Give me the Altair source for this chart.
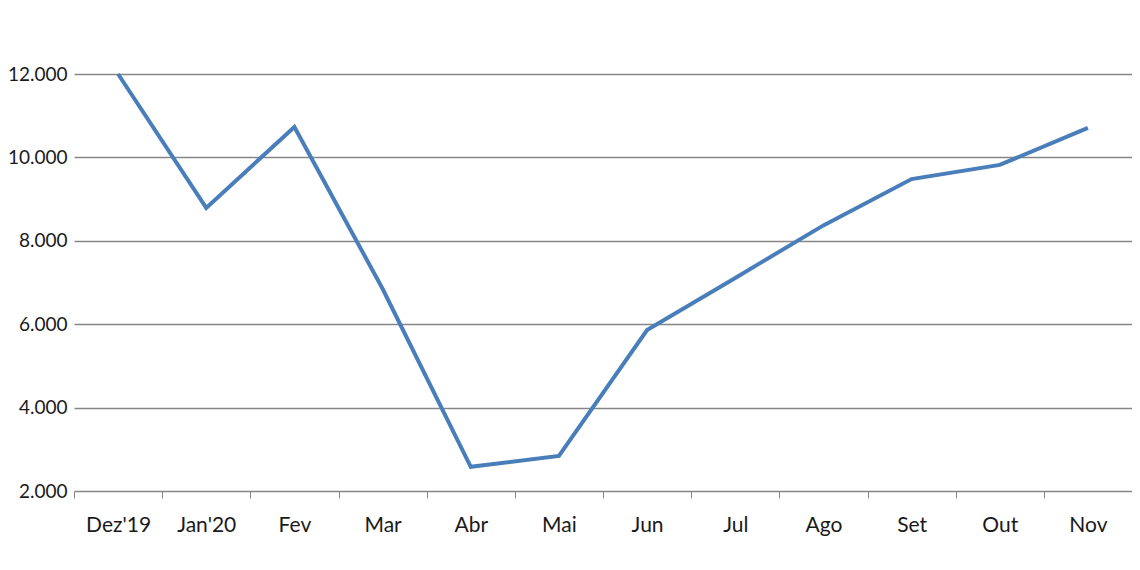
import altair as alt
import pandas as pd

months = ["Dez'19", "Jan'20", "Fev", "Mar", "Abr", "Mai", "Jun", "Jul", "Ago", "Set", "Out", "Nov"]
values = [12000, 8790, 10730, 6850, 2580, 2840, 5860, 7110, 8370, 9480, 9820, 10710]

df = pd.DataFrame({"mes": months, "valor": values})

chart = alt.Chart(df).mark_line(color="#4a7ebb", strokeWidth=4, strokeJoin="miter").encode(
    x=alt.X("mes:N", sort=months, title=None,
            scale=alt.Scale(type="band", paddingInner=0, paddingOuter=0),
            axis=alt.Axis(tickBand="extent", labelAngle=0, grid=False,
                          domainColor="#868686", tickColor="#868686", tickSize=7,
                          labelFont="Lato", labelFontSize=21, labelColor="#1a1a1a",
                          labelPadding=16)),
    y=alt.Y("valor:Q", title=None,
            scale=alt.Scale(domain=[2000, 12000], nice=False, zero=False),
            axis=alt.Axis(values=[2000, 4000, 6000, 8000, 10000, 12000],
                          labelExpr="replace(format(datum.value, ',.0f'), ',', '.')",
                          domain=False, ticks=False, gridColor="#868686", gridWidth=1.3,
                          labelFont="Lato", labelFontSize=19, labelColor="#1a1a1a",
                          labelPadding=7)),
).properties(
    width=1058, height=417,
    padding={"left": 66, "top": 66, "right": 0, "bottom": 60},
    autosize=alt.AutoSizeParams(type="none"),
).configure_view(stroke=None)

chart.save("out.html", embed_options={"renderer": "svg", "actions": False})
